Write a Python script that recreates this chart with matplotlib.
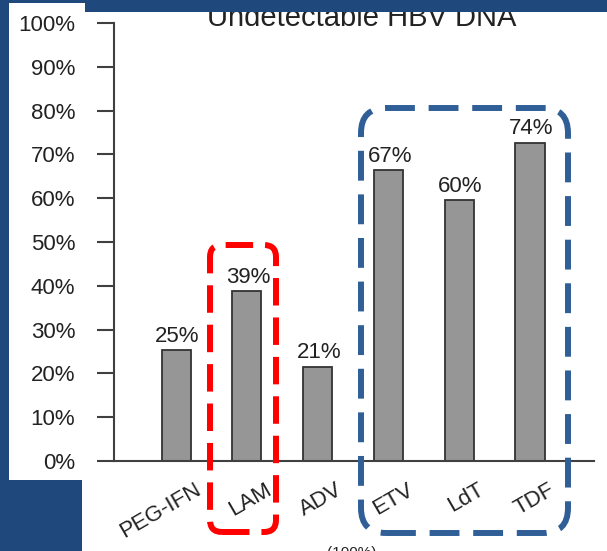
import matplotlib
matplotlib.use("Agg")
import matplotlib.pyplot as plt
from matplotlib.patches import Rectangle, FancyBboxPatch
from matplotlib.transforms import IdentityTransform, ScaledTranslation

categories = ["PEG-IFN", "LAM", "ADV", "ETV", "LdT", "TDF"]
values = [25.3, 38.7, 21.5, 66.4, 59.6, 72.7]
value_labels = ["25%", "39%", "21%", "67%", "60%", "74%"]
y_ticks = [0, 10, 20, 30, 40, 50, 60, 70, 80, 90, 100]
y_tick_labels = [f"{v}%" for v in y_ticks]
title = "Undetectable HBV DNA"

W, H = 607, 551
DPI = 100
plt.rcParams['font.family'] = ['Liberation Sans', 'DejaVu Sans']
BG = "#1F497D"
TXT = "#222222"
AX = "#404040"

fig = plt.figure(figsize=(W / DPI, H / DPI), dpi=DPI, facecolor=BG)

def px_rect(x0, y0, x1, y1, **kw):
    # pixel coords measured from top-left
    return Rectangle((x0 / W, (H - y1) / H), (x1 - x0) / W, (y1 - y0) / H,
                     transform=fig.transFigure, **kw)

fig.patches.append(px_rect(9, 3, 85, 480, facecolor="white", edgecolor="none", zorder=-2))
fig.patches.append(px_rect(82, 12, 607, 551, facecolor="white", edgecolor="none", zorder=-2))

# title (top is cut by the blue strip)
fig.text(362 / W, (H - 26) / H, title, ha="center", va="baseline",
         fontsize=21, color=TXT, zorder=3)
fig.patches.append(px_rect(85, 0, 607, 12, facecolor=BG, edgecolor="none", zorder=10))

ax = fig.add_axes([114 / W, (H - 461) / H, 480 / W, 438 / H])
ax.set_facecolor("none")
x = list(range(len(categories)))
ax.bar(x, values, width=0.41, color="#969696", edgecolor="#333333", linewidth=1.3, zorder=2)
for xi, v, lab in zip(x, values, value_labels):
    ax.annotate(lab, (xi, v), xytext=(1, 6), textcoords="offset points",
                ha="center", va="baseline", fontsize=16, color=TXT)

ax.set_xlim(-0.876, 5.904)
ax.set_ylim(0, 100)
ax.set_yticks(y_ticks)
ax.set_yticklabels(y_tick_labels, fontsize=16, color=TXT)
ax.tick_params(axis="y", length=12, width=1.5, color=AX, pad=16)
ax.set_xticks(x)
ax.set_xticklabels(categories, fontsize=16, color=TXT, rotation=30,
                   ha="right", rotation_mode="anchor")
ax.tick_params(axis="x", length=0, pad=13)
offset = ScaledTranslation(18 / DPI, 0, fig.dpi_scale_trans)
for lbl in ax.get_xticklabels():
    lbl.set_transform(lbl.get_transform() + offset)
for s in ["top", "right"]:
    ax.spines[s].set_visible(False)
for s in ["left", "bottom"]:
    ax.spines[s].set_color(AX)
    ax.spines[s].set_linewidth(1.5)

# highlight boxes (pixel coords, top-left origin)
def rbox(x0, y0, x1, y1, r, color, dash):
    p = FancyBboxPatch((x0, H - y1), x1 - x0, y1 - y0,
                       boxstyle=f"round,pad=0,rounding_size={r}",
                       transform=IdentityTransform(), facecolor="none",
                       edgecolor=color, linewidth=4.3, linestyle=(0, dash),
                       capstyle="butt", zorder=5)
    fig.patches.append(p)

rbox(210, 245, 276, 532, 12, "#FF0000", (4.6, 2.0))
rbox(361, 108, 568, 533, 25, "#305F98", (5.0, 2.3))

fig.text(352 / W, (H - 546) / H, "(100%)", ha="center", va="top", fontsize=11, color=TXT)

fig.savefig("out.png", dpi=DPI, facecolor=BG)
